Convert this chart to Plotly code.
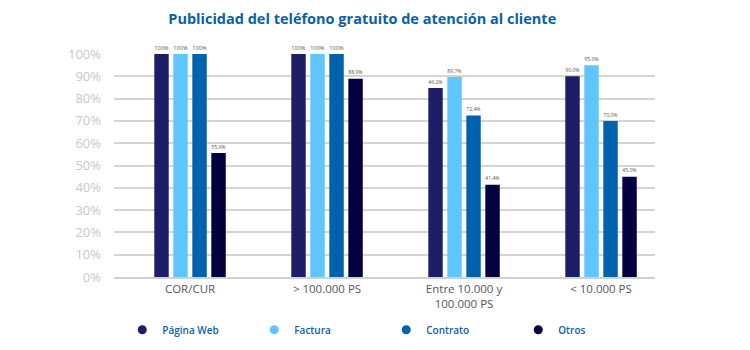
import plotly.graph_objects as go

categories = ["COR/CUR", "> 100.000 PS", "Entre 10.000 y<br>100.000 PS", "< 10.000 PS"]
series_names = ["Página Web", "Factura", "Contrato", "Otros"]
pagina_web = [100, 100, 84.8, 90.0]
factura = [100, 100, 89.7, 95.0]
contrato = [100, 100, 72.4, 70.0]
otros = [55.6, 88.9, 41.4, 45.0]
label_pagina_web = ["100%", "100%", "46,2%", "90,0%"]
label_factura = ["100%", "100%", "89,7%", "95,0%"]
label_contrato = ["100%", "100%", "72,4%", "70,0%"]
label_otros = ["55,6%", "88,9%", "41,4%", "45,0%"]
colors = ["#1e1e68", "#5ec6fc", "#0062ad", "#04003f"]
y_ticks = [0, 10, 20, 30, 40, 50, 60, 70, 80, 90, 100]
y_ticklabels = [f"{v}%" for v in y_ticks]

values = [pagina_web, factura, contrato, otros]
labels = [label_pagina_web, label_factura, label_contrato, label_otros]

fig = go.Figure()
for name, vals, labs, col in zip(series_names, values, labels, colors):
    fig.add_trace(go.Bar(
        x=categories, y=vals, name=name, marker=dict(color=col, line=dict(width=0)),
        text=labs, textposition="outside", cliponaxis=False, showlegend=False,
        textfont=dict(size=8, color="#555555", family="Open Sans"),
    ))
# legend entries with circle markers
for name, col in zip(series_names, colors):
    fig.add_trace(go.Scatter(
        x=[None], y=[None], mode="markers", name=name,
        marker=dict(symbol="circle", size=9, color=col),
    ))

fig.update_layout(
    width=750, height=350,
    margin=dict(l=114, r=95, t=54, b=73, autoexpand=False),
    paper_bgcolor="white", plot_bgcolor="white",
    barmode="group", bargap=0.445, bargroupgap=0.24,
    title=dict(text="<b>Publicidad del teléfono gratuito de atención al cliente</b>",
               x=0.483, xanchor="center", y=0.945, yanchor="middle",
               font=dict(family="Open Sans", size=14.5, color="#0a5fa8")),
    font=dict(family="Open Sans"),
    showlegend=True,
    legend=dict(orientation="h", xref="container", yref="container",
                x=0.163, xanchor="left", y=0.058, yanchor="middle",
                font=dict(size=10, color="#0a5fa8", family="Open Sans", weight=600),
                entrywidth=87, entrywidthmode="pixels", itemwidth=30,
                traceorder="normal", bgcolor="rgba(0,0,0,0)"),
    xaxis=dict(type="category", range=[-0.555, 3.394], showgrid=False,
               showline=True, linecolor="#d0d0d0", linewidth=2, automargin=False,
               tickfont=dict(size=11.5, color="#555555", family="Open Sans"),
               ticks=""),
    yaxis=dict(range=[0, 100], tickvals=y_ticks, ticktext=y_ticklabels,
               showgrid=True, gridcolor="#d4d4d4", gridwidth=2, automargin=False,
               zeroline=False, showline=False, ticks="",
               ticklabelstandoff=12,
               tickfont=dict(size=13, color="#c8c8c8", family="Open Sans")),
)

fig.write_html("out.html")
